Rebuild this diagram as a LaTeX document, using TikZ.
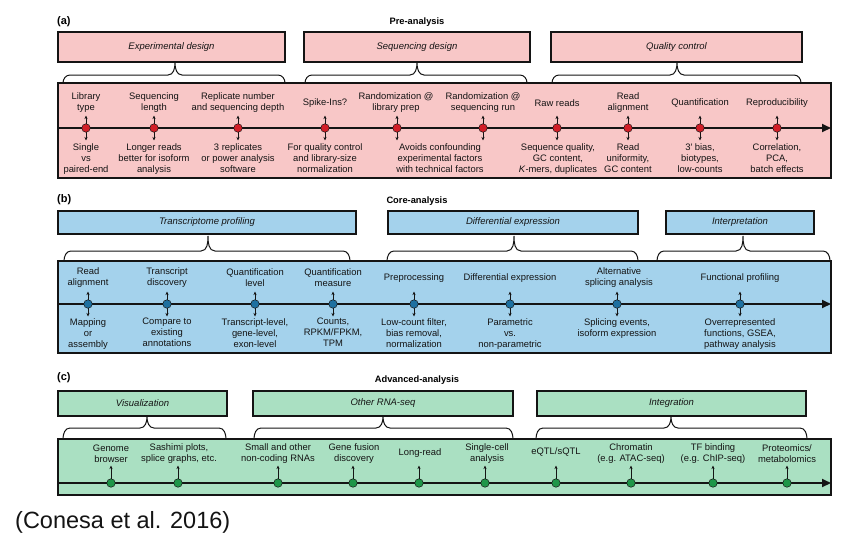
\documentclass[tikz,border=0pt]{standalone}
\usepackage{fontspec}
\setmainfont{Liberation Sans}
\usetikzlibrary{arrows.meta}
\definecolor{pinkA}{RGB}{248,199,199}
\definecolor{blueB}{RGB}{164,210,236}
\definecolor{greenC}{RGB}{170,224,194}
\definecolor{dotA}{RGB}{210,30,40}
\definecolor{dotB}{RGB}{30,112,160}
\definecolor{dotC}{RGB}{30,150,72}
\definecolor{inkk}{RGB}{20,20,20}
\tikzset{
 lbl/.style={font=\fontsize{9.4}{11}\selectfont, align=center, inner sep=0pt, text=inkk},
 ttl/.style={font=\fontsize{9.5}{11}\selectfont\itshape, text=inkk},
 hdr/.style={font=\fontsize{9.3}{11}\selectfont\bfseries, inner sep=0pt},
 plab/.style={font=\fontsize{11}{13}\selectfont\bfseries, inner sep=0pt, anchor=west},
 catbox/.style={draw=inkk, line width=1.1pt, inner sep=0pt},
 mainbox/.style={draw=inkk, line width=1.4pt, inner sep=0pt},
 tl/.style={draw=inkk, line width=1.8pt, -{Triangle[length=9pt,width=8pt]}},
 tick/.style={draw=inkk, line width=0.8pt, {Stealth[length=3.6pt,width=3.2pt]}-{Stealth[length=3.6pt,width=3.2pt]}},
 tickup/.style={draw=inkk, line width=0.8pt, -{Stealth[length=3.6pt,width=3.2pt]}},
 brc/.style={draw=inkk, line width=1pt},
 dotnode/.style={circle, draw=inkk, line width=0.5pt, minimum size=8.5pt, inner sep=0pt},
}
\newcommand\mybrace[6]{%
 \draw[brc] (#1,#6) to[out=90,in=180] ({#1+7},#5) -- ({#2-7},#5) to[out=0,in=-90] (#2,#4)
   to[out=-90,in=180] ({#2+7},#5) -- ({#3-7},#5) to[out=0,in=90] (#3,#6);}
\begin{document}
\begin{tikzpicture}[x=1pt,y=-1pt]
\useasboundingbox (0,0) rectangle (858,550);
\fill[white] (0,0) rectangle (858,550);

% ================= Panel (a)
\node[plab] (pa) at (57,22) {(a)};
\node[hdr] (ha) at (417,22) {Pre-analysis};
\node[catbox, fill=pinkA, minimum width=227pt, minimum height=30pt, ttl] (ed) at (171.5,47) {Experimental design};
\node[catbox, fill=pinkA, minimum width=226pt, minimum height=30pt, ttl] (sd) at (417,47) {Sequencing design};
\node[catbox, fill=pinkA, minimum width=251pt, minimum height=30pt, ttl] (qc) at (676.5,47) {Quality control};
\mybrace{63}{175}{285}{63}{75}{83}
\mybrace{305}{417}{527}{63}{75}{83}
\mybrace{552}{677}{801}{63}{75}{83}
\node[mainbox, fill=pinkA, minimum width=773pt, minimum height=95pt] (ma) at (444.5,130.5) {};
\coordinate (sa) at (58,128);
\coordinate (ea) at (831,128);
\draw[tl] (sa) -- (ea);
\foreach \x [count=\n] in {86,154,238,325,397,483,557,628,700,777}{
  \coordinate (ua\n) at (\x,115.5);
  \coordinate (va\n) at (\x,140.5);
  \draw[tick] (ua\n) -- (va\n);
  \node[dotnode, fill=dotA] (a\n) at (\x,128) {};
}
\node[lbl] (ta1) at (86,102.5) {Library\\type};
\node[lbl] (ta2) at (154,102.5) {Sequencing\\length};
\node[lbl] (ta3) at (238,102.5) {Replicate number\\and sequencing depth};
\node[lbl] (ta4) at (325,103) {Spike-Ins?};
\node[lbl] (ta5) at (396,102.5) {Randomization @\\library prep};
\node[lbl] (ta6) at (483,102.5) {Randomization @\\sequencing run};
\node[lbl] (ta7) at (557,103) {Raw reads};
\node[lbl] (ta8) at (628,102.5) {Read\\alignment};
\node[lbl] (ta9) at (700,103) {Quantification};
\node[lbl] (ta10) at (777,103) {Reproducibility};
\node[lbl, anchor=north] (ba1) at (86,143) {Single\\vs\\paired-end};
\node[lbl, anchor=north] (ba2) at (154,143) {Longer reads\\better for isoform\\analysis};
\node[lbl, anchor=north] (ba3) at (238,143) {3 replicates\\or power analysis\\software};
\node[lbl, anchor=north] (ba4) at (325,143) {For quality control\\and library-size\\normalization};
\node[lbl, anchor=north] (ba5) at (440,143) {Avoids confounding\\experimental factors\\with technical factors};
\node[lbl, anchor=north] (ba7) at (558,143) {Sequence quality,\\GC content,\\\textit{K}-mers, duplicates};
\node[lbl, anchor=north] (ba8) at (628,143) {Read\\uniformity,\\GC content};
\node[lbl, anchor=north] (ba9) at (700,143) {3′ bias,\\biotypes,\\low-counts};
\node[lbl, anchor=north] (ba10) at (777,143) {Correlation,\\PCA,\\batch effects};

% ================= Panel (b)
\node[plab] (pb) at (57,200) {(b)};
\node[hdr] (hb) at (417,201) {Core-analysis};
\node[catbox, fill=blueB, minimum width=298pt, minimum height=23pt, ttl] (tp) at (207,222.5) {Transcriptome profiling};
\node[catbox, fill=blueB, minimum width=250pt, minimum height=23pt, ttl] (de) at (513,222.5) {Differential expression};
\node[catbox, fill=blueB, minimum width=148pt, minimum height=23pt, ttl] (ip) at (740,222.5) {Interpretation};
\mybrace{64}{208}{350}{236}{251}{261}
\mybrace{387}{514}{638}{236}{251}{261}
\mybrace{657}{743}{830}{236}{251}{261}
\node[mainbox, fill=blueB, minimum width=773pt, minimum height=92pt] (mb) at (444.5,307) {};
\coordinate (sb) at (58,304);
\coordinate (eb) at (831,304);
\draw[tl] (sb) -- (eb);
\foreach \x [count=\n] in {88,167,255,333,414,510,617,740}{
  \coordinate (ub\n) at (\x,291.5);
  \coordinate (vb\n) at (\x,316.5);
  \draw[tick] (ub\n) -- (vb\n);
  \node[dotnode, fill=dotB] (b\n) at (\x,304) {};
}
\node[lbl] (tb1) at (88,278) {Read\\alignment};
\node[lbl] (tb2) at (167,278) {Transcript\\discovery};
\node[lbl] (tb3) at (255,278) {Quantification\\level};
\node[lbl] (tb4) at (333,278) {Quantification\\measure};
\node[lbl] (tb5) at (414,278.5) {Preprocessing};
\node[lbl] (tb6) at (510,278.5) {Differential expression};
\node[lbl] (tb7) at (619,278) {Alternative\\splicing analysis};
\node[lbl] (tb8) at (740,278.5) {Functional profiling};
\node[lbl, anchor=north] (bb1) at (88,318) {Mapping\\or\\assembly};
\node[lbl, anchor=north] (bb2) at (167,318) {Compare to\\existing\\annotations};
\node[lbl, anchor=north] (bb3) at (255,318) {Transcript-level,\\gene-level,\\exon-level};
\node[lbl, anchor=north] (bb4) at (333,318) {Counts,\\RPKM/FPKM,\\TPM};
\node[lbl, anchor=north] (bb5) at (414,318) {Low-count filter,\\bias removal,\\normalization};
\node[lbl, anchor=north] (bb6) at (510,318) {Parametric\\vs.\\non-parametric};
\node[lbl, anchor=north] (bb7) at (617,318) {Splicing events,\\isoform expression};
\node[lbl, anchor=north] (bb8) at (740,318) {Overrepresented\\functions, GSEA,\\pathway analysis};

% ================= Panel (c)
\node[plab] (pc) at (57,378) {(c)};
\node[hdr] (hc) at (417,380) {Advanced-analysis};
\node[catbox, fill=greenC, minimum width=169pt, minimum height=25pt, ttl] (vz) at (142.5,403.5) {Visualization};
\node[catbox, fill=greenC, minimum width=260pt, minimum height=25pt, ttl] (or) at (383,403.5) {Other RNA-seq};
\node[catbox, fill=greenC, minimum width=269pt, minimum height=25pt, ttl] (ig) at (671.5,403.5) {Integration};
\mybrace{63}{147}{226}{417}{428}{439}
\mybrace{254}{383}{513}{417}{428}{439}
\mybrace{536}{671}{807}{417}{428}{439}
\node[mainbox, fill=greenC, minimum width=773pt, minimum height=56pt] (mc) at (444.5,467) {};
\coordinate (sc) at (58,483);
\coordinate (ec) at (831,483);
\draw[tl] (sc) -- (ec);
\foreach \x [count=\n] in {111,178,278,353,419,485,556,631,713,787}{
  \coordinate (uc\n) at (\x,465.5);
  \node[dotnode, fill=dotC] (c\n) at (\x,483) {};
  \draw[tickup] (c\n.north) -- (uc\n);
}
\node[lbl] (tc1) at (111,453.5) {Genome\\browser};
\node[lbl] (tc2) at (179,453.5) {Sashimi plots,\\splice graphs, etc.};
\node[lbl] (tc3) at (278,453.5) {Small and other\\non-coding RNAs};
\node[lbl] (tc4) at (354,453.5) {Gene fusion\\discovery};
\node[lbl] (tc5) at (420,453) {Long-read};
\node[lbl] (tc6) at (487,453.5) {Single-cell\\analysis};
\node[lbl] (tc7) at (556,452) {eQTL/sQTL};
\node[lbl] (tc8) at (631,453.5) {Chromatin\\(e.g. ATAC-seq)};
\node[lbl] (tc9) at (713,453.5) {TF binding\\(e.g. ChIP-seq)};
\node[lbl] (tc10) at (787,453.5) {Proteomics/\\metabolomics};

% citation
\node[anchor=west, inner sep=0pt, font=\fontsize{23.5}{26}\selectfont, text=inkk] (cit) at (15,522) {(Conesa et al. 2016)};
\end{tikzpicture}
\end{document}
